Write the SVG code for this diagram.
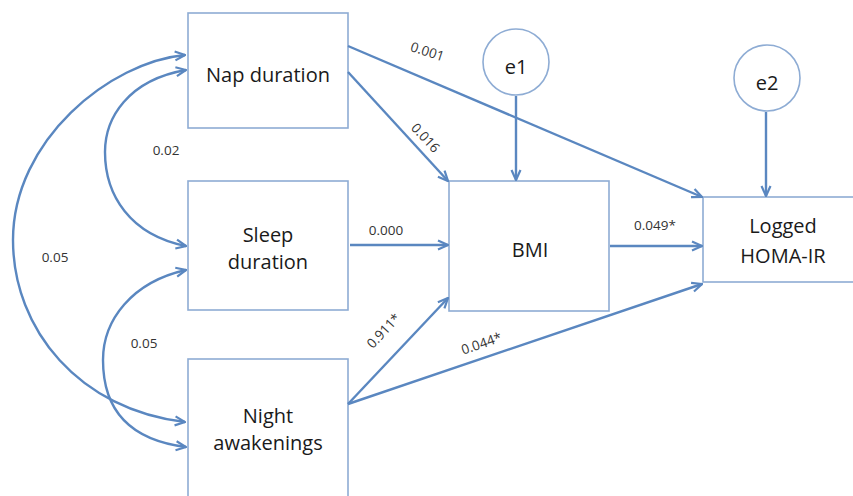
<svg xmlns="http://www.w3.org/2000/svg" width="853" height="496" viewBox="0 0 853 496">
<defs>
<style>
.box{fill:#ffffff;stroke:#8eacd4;stroke-width:1.6}
.edge{fill:none;stroke:#5a87c0;stroke-width:2.4}
.lbl{font-family:"Open Sans","Liberation Sans",sans-serif;font-size:20px;fill:#1a1a1a;text-anchor:middle}
.num{font-family:"Open Sans","Liberation Sans",sans-serif;font-size:13.5px;fill:#333;text-anchor:middle}
</style>
<marker id="arr" viewBox="0 0 12 12" refX="11" refY="6" markerWidth="12" markerHeight="12" markerUnits="userSpaceOnUse" orient="auto-start-reverse">
<path d="M1,1.5 L11,6 L1,10.5" fill="none" stroke="#5a87c0" stroke-width="2.2" stroke-linejoin="miter"/>
</marker>
</defs>
<rect width="853" height="496" fill="#ffffff"/>

<g id="nap">
<rect class="box" x="188" y="13" width="160" height="115"/>
<text class="lbl" x="268" y="82">Nap duration</text>
</g>
<g id="sleep">
<rect class="box" x="188" y="181" width="160" height="129"/>
<text class="lbl" x="268" y="242">Sleep</text>
<text class="lbl" x="268" y="269">duration</text>
</g>
<g id="night">
<rect class="box" x="188" y="359" width="160" height="150"/>
<text class="lbl" x="268" y="423">Night</text>
<text class="lbl" x="268" y="450">awakenings</text>
</g>
<g id="bmi">
<rect class="box" x="449" y="181" width="160" height="130"/>
<text class="lbl" x="530" y="257">BMI</text>
</g>
<g id="homa">
<rect class="box" x="703" y="197" width="170" height="85"/>
<text class="lbl" x="783" y="233">Logged</text>
<text class="lbl" x="783" y="263">HOMA-IR</text>
</g>
<g id="e1">
<circle class="box" cx="516" cy="62" r="33"/>
<text class="lbl" x="516" y="74">e1</text>
</g>
<g id="e2">
<circle class="box" cx="767" cy="78" r="33"/>
<text class="lbl" x="767" y="90">e2</text>
</g>

<g id="connectors">
<path class="edge" marker-end="url(#arr)" d="M516,96 L516,180"/>
<path class="edge" marker-end="url(#arr)" d="M766,112 L766,196"/>
<path class="edge" marker-end="url(#arr)" d="M348,46 L702,197"/>
<path class="edge" marker-end="url(#arr)" d="M348,72 L448,181"/>
<path class="edge" marker-end="url(#arr)" d="M350,245 L448,245"/>
<path class="edge" marker-end="url(#arr)" d="M610,246 L702,246"/>
<path class="edge" marker-end="url(#arr)" d="M348,404 L448,298"/>
<path class="edge" marker-end="url(#arr)" d="M348,404 L702,284"/>
<path class="edge" marker-start="url(#arr)" marker-end="url(#arr)" d="M186,70 C128,80 105,118 105,152 C105,195 130,235 186,246"/>
<path class="edge" marker-start="url(#arr)" marker-end="url(#arr)" d="M186,270 C132,282 103,320 103,360 C103,410 130,440 186,447"/>
<path class="edge" marker-start="url(#arr)" marker-end="url(#arr)" d="M185,55 C110,62 13,140 13,240 C13,330 80,410 185,422"/>
<text class="num" x="166" y="155">0.02</text>
<text class="num" x="55" y="262">0.05</text>
<text class="num" x="144" y="348">0.05</text>
<text class="num" x="386" y="235">0.000</text>
<text class="num" x="655" y="230">0.049*</text>
<text class="num" transform="translate(426,56) rotate(18)">0.001</text>
<text class="num" transform="translate(422,141) rotate(47)">0.016</text>
<text class="num" transform="translate(387,334) rotate(-47)">0.911*</text>
<text class="num" transform="translate(483,348) rotate(-19)">0.044*</text>
</g>
</svg>
